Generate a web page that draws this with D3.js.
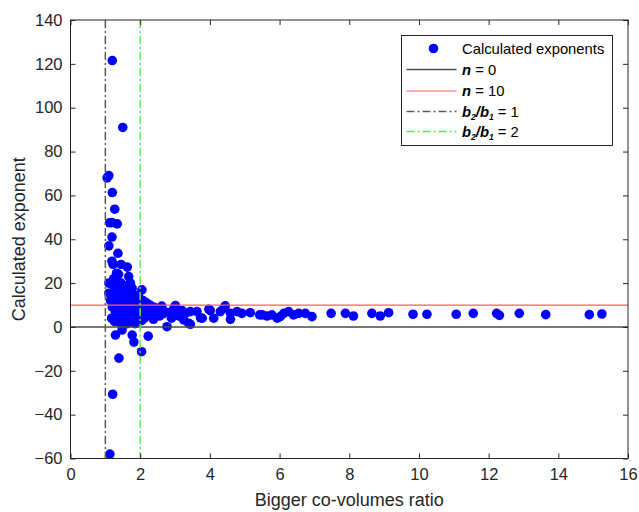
<!DOCTYPE html>
<html>
<head>
<meta charset="utf-8">
<script src="https://cdn.jsdelivr.net/npm/d3@7"></script>
<style>
  body { margin: 0; background: #ffffff; }
  svg { display: block; font-family: "Liberation Sans", Arial, sans-serif; }
</style>
</head>
<body>
<svg id="chart" width="639" height="512"></svg>
<script>
// Co-volume ratio (x) versus calculated exponent (y)
const ratioValues = [
  1.20, 1.50, 1.10, 1.05, 1.20, 1.27, 1.12, 1.19, 1.34, 1.19, 1.10, 1.36, 1.19, 1.22, 1.45,
  1.63, 1.32, 1.38, 1.24, 1.67, 1.10, 1.25, 1.45, 1.72, 1.77, 1.10, 2.05, 1.29, 1.53, 1.48,
  1.29, 1.77, 2.23, 1.82, 2.04, 1.39, 1.21, 1.13,
  1.15, 1.20, 1.25, 1.30, 1.33, 1.35, 1.40, 1.42, 1.45, 1.48, 1.50, 1.52, 1.55, 1.58, 1.60,
  1.62, 1.65, 1.68, 1.70, 1.72, 1.75, 1.78, 1.80, 1.82, 1.85, 1.88, 1.90, 1.92, 1.95, 1.97,
  2.00, 2.02, 2.05, 2.00, 1.38, 1.60, 1.26, 1.45, 1.88, 1.70,
  1.18, 1.35, 1.55, 1.62, 1.75, 1.85, 1.95, 2.08, 2.12, 2.18, 2.28, 2.38, 2.55, 2.62, 1.50,
  1.27, 1.65,
  2.10, 2.15, 2.20, 2.25, 2.30, 2.35, 2.40, 2.45, 2.50, 2.58, 2.65, 2.70, 2.77, 2.85, 2.90,
  2.95, 3.01, 3.05, 3.12, 3.20, 3.25, 3.30, 3.39, 3.44, 3.44, 3.63, 3.73, 3.78, 3.97, 4.01,
  4.11, 4.30, 4.44, 4.40, 4.59, 4.59, 4.78, 4.92, 5.16, 5.43, 5.50, 5.64, 5.78, 5.93, 6.02,
  6.12, 6.26, 6.40, 6.55, 6.74, 6.93, 7.48, 7.89, 8.12, 8.65, 8.89, 9.13, 9.83, 10.23, 11.07,
  11.56, 12.23, 12.31, 12.88, 13.64, 14.89, 15.25
];
const exponentValues = [
  121.5, 91.0, 69.0, 68.0, 61.3, 53.7, 47.5, 47.6, 47.0, 41.0, 37.0, 33.6, 30.0, 28.5, 28.5,
  27.3, 24.5, 24.0, 22.0, 23.0, 20.0, 18.4, 20.0, 20.0, 17.7, 15.4, 16.9, 6.2, 1.2, -1.4,
  -3.7, -3.7, -4.2, -6.9, -11.3, -14.2, -30.7, -58.0,
  12.0, 9.0, 14.0, 11.0, 16.0, 8.0, 13.0, 5.0, 10.0, 15.0, 7.0, 12.0, 3.0, 9.0, 14.0,
  6.0, 11.0, 4.0, 8.0, 13.0, 6.0, 10.0, 3.0, 8.0, 12.0, 5.0, 9.0, 2.0, 7.0, 11.0,
  5.0, 8.0, 3.0, 11.6, 18.0, 17.0, 2.5, 1.5, 14.0, 16.0,
  4.0, 2.5, 13.5, 1.5, 15.0, 1.5, 14.5, 12.0, 4.0, 11.0, 10.0, 3.5, 5.0, 9.5, 17.5,
  16.0, 19.0,
  9.0, 6.0, 8.0, 8.5, 5.0, 7.0, 9.0, 6.0, 7.5, 8.5, 6.0, 7.0, 0.1, 6.5, 4.0,
  8.0, 9.8, 6.0, 5.0, 7.5, 3.2, 6.2, 1.7, 1.2, 7.0, 7.0, 4.2, 4.0, 8.1, 7.5,
  4.0, 7.0, 9.6, 8.5, 6.2, 3.5, 7.0, 6.2, 6.5, 5.5, 5.5, 5.0, 5.5, 4.0, 4.7,
  6.2, 7.0, 5.5, 6.2, 6.2, 4.7, 6.2, 6.2, 5.0, 6.2, 5.0, 6.5, 5.8, 5.8, 5.8,
  6.2, 6.2, 5.3, 6.2, 5.6, 5.6, 5.9
];

const xTicks = [0, 2, 4, 6, 8, 10, 12, 14, 16];
const yTicks = [-60, -40, -20, 0, 20, 40, 60, 80, 100, 120, 140];
const xDomain = [0, 16];
const yDomain = [-60, 140];

// Reference levels
const exponentLevels = [0, 10];
const ratioLevels = [1, 2];

const legendLabels = ["Calculated exponents", "n = 0", "n = 10", "b2/b1 = 1", "b2/b1 = 2"];

const points = ratioValues.map((r, i) => ({ x: r, y: exponentValues[i] }));

const svg = d3.select("#chart");
const plot = { left: 70.5, right: 628, top: 20, bottom: 458.5 };
const axisColor = "#262626";

const x = d3.scaleLinear().domain(xDomain).range([plot.left, plot.right]);
const y = d3.scaleLinear().domain(yDomain).range([plot.bottom, plot.top]);

// Scatter points
svg.append("g")
  .selectAll("circle")
  .data(points)
  .join("circle")
  .attr("cx", d => x(d.x))
  .attr("cy", d => y(d.y))
  .attr("r", 4.8)
  .attr("fill", "#0000ff");

// Reference lines drawn above the points
const lineStyles = {
  n0:  { stroke: "#4a4a4a", width: 1.5, dash: null },
  n10: { stroke: "#ff5c5c", width: 1.2, dash: null },
  b1:  { stroke: "#5a5a5a", width: 1.5, dash: "8,3,2,3" },
  b2:  { stroke: "#55ee55", width: 1.5, dash: "8,3,2,3" }
};

const refs = svg.append("g");
[["n0", exponentLevels[0]], ["n10", exponentLevels[1]]].forEach(([k, v]) => {
  const s = lineStyles[k];
  refs.append("line")
    .attr("x1", x(xDomain[0])).attr("x2", x(xDomain[1]))
    .attr("y1", y(v)).attr("y2", y(v))
    .attr("stroke", s.stroke).attr("stroke-width", s.width);
});
[["b1", ratioLevels[0]], ["b2", ratioLevels[1]]].forEach(([k, v]) => {
  const s = lineStyles[k];
  refs.append("line")
    .attr("x1", x(v)).attr("x2", x(v))
    .attr("y1", y(yDomain[1])).attr("y2", y(yDomain[0]))
    .attr("stroke", s.stroke).attr("stroke-width", s.width)
    .attr("stroke-dasharray", s.dash);
});

// Axes (ticks pointing inward, mirrored on the box)
const tickLen = 5;
const xAxisB = svg.append("g").attr("transform", `translate(0,${plot.bottom})`)
  .call(d3.axisBottom(x).tickValues(xTicks).tickSize(-tickLen).tickPadding(10).tickFormat(d3.format("d")));
const xAxisT = svg.append("g").attr("transform", `translate(0,${plot.top})`)
  .call(d3.axisTop(x).tickValues(xTicks).tickSize(-tickLen).tickFormat(""));
const yAxisL = svg.append("g").attr("transform", `translate(${plot.left},0)`)
  .call(d3.axisLeft(y).tickValues(yTicks).tickSize(-tickLen).tickPadding(8).tickFormat(d3.format("d")));
const yAxisR = svg.append("g").attr("transform", `translate(${plot.right},0)`)
  .call(d3.axisRight(y).tickValues(yTicks).tickSize(-tickLen).tickFormat(""));

[xAxisB, xAxisT, yAxisL, yAxisR].forEach(g => {
  g.select(".domain").remove();
  g.selectAll(".tick line").attr("stroke", axisColor);
  g.selectAll(".tick text")
    .attr("fill", axisColor)
    .style("font-size", "16.5px")
    .style("font-family", "'Liberation Sans', Arial, sans-serif");
});
// Plot box
svg.append("rect")
  .attr("x", plot.left).attr("y", plot.top)
  .attr("width", plot.right - plot.left).attr("height", plot.bottom - plot.top)
  .attr("fill", "none").attr("stroke", axisColor).attr("stroke-width", 1);

// Axis titles
svg.append("text")
  .attr("x", (plot.left + plot.right) / 2).attr("y", 506)
  .attr("text-anchor", "middle")
  .attr("fill", axisColor)
  .style("font-size", "18px")
  .text("Bigger co-volumes ratio");

svg.append("text")
  .attr("transform", `translate(25,${(plot.top + plot.bottom) / 2}) rotate(-90)`)
  .attr("text-anchor", "middle")
  .attr("fill", axisColor)
  .style("font-size", "18px")
  .text("Calculated exponent");

// Legend
const lg = { x: 401.5, y: 35.5, w: 211, h: 110 };
const legend = svg.append("g");
legend.append("rect")
  .attr("x", lg.x).attr("y", lg.y).attr("width", lg.w).attr("height", lg.h)
  .attr("fill", "#ffffff").attr("stroke", axisColor).attr("stroke-width", 1);

const rowY = [48.5, 69.5, 91, 111.5, 131.5];
const sampleX0 = 406.5, sampleX1 = 456.5, textX = 462;
const legendFont = "14.8px";

legend.append("circle")
  .attr("cx", (sampleX0 + sampleX1) / 2 + 2).attr("cy", rowY[0]).attr("r", 4.8)
  .attr("fill", "#0000ff");

["n0", "n10", "b1", "b2"].forEach((k, i) => {
  const s = lineStyles[k];
  legend.append("line")
    .attr("x1", sampleX0).attr("x2", sampleX1)
    .attr("y1", rowY[i + 1]).attr("y2", rowY[i + 1])
    .attr("stroke", s.stroke).attr("stroke-width", s.width)
    .attr("stroke-dasharray", s.dash);
});

const addText = (row) => legend.append("text")
  .attr("x", textX).attr("y", rowY[row] + 5.3)
  .attr("fill", "#000000")
  .style("font-size", legendFont);

addText(0).text(legendLabels[0]);

// "n = 0" and "n = 10" with a bold italic n
[1, 2].forEach(row => {
  const [sym, rest] = legendLabels[row].split(" = ");
  const t = addText(row);
  t.append("tspan").attr("font-weight", "bold").attr("font-style", "italic").text(sym);
  t.append("tspan").text(" = " + rest);
});

// "b2/b1 = k" with bold italic b and subscripts
[3, 4].forEach(row => {
  const [ratio, rest] = legendLabels[row].split(" = ");
  const [num, den] = ratio.split("/");
  const t = addText(row);
  const part = (txt, sub) => {
    const sp = t.append("tspan").attr("font-weight", "bold").attr("font-style", "italic");
    if (sub) sp.style("font-size", "8.5px").attr("dy", 3).text(txt);
    else sp.text(txt);
    return sp;
  };
  part(num[0]);
  part(num.slice(1), true);
  t.append("tspan").attr("dy", -3).attr("font-weight", "bold").attr("font-style", "italic").text("/");
  part(den[0]);
  part(den.slice(1), true);
  t.append("tspan").attr("dy", -3).text(" = " + rest);
});
</script>
</body>
</html>
